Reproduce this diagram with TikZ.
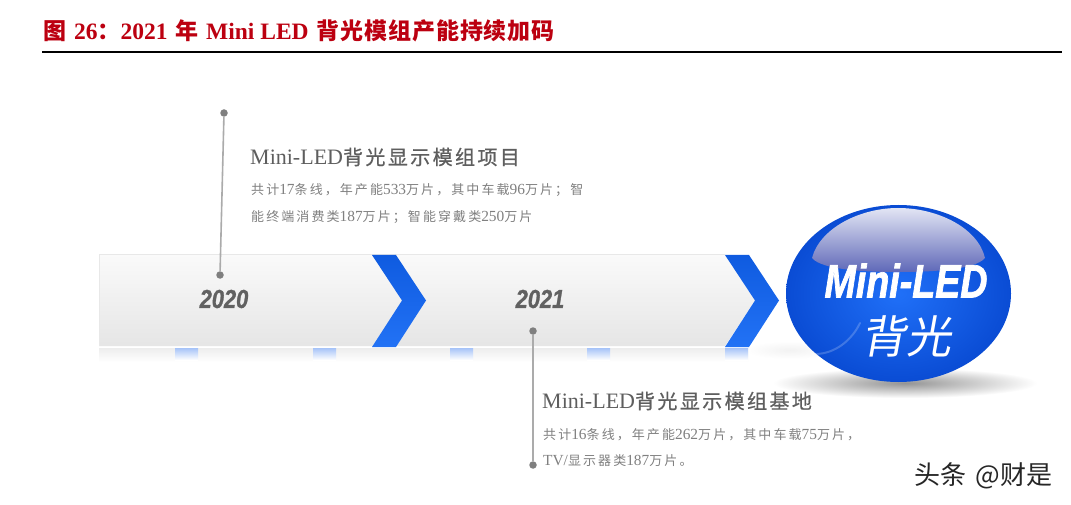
\documentclass[tikz,border=0pt]{standalone}
\usepackage{fontspec}
\setmainfont{Liberation Serif}
\newfontfamily\zhbody[LetterSpace=16]{Noto Sans CJK SC}
\newfontfamily\zhhead[LetterSpace=12,FakeBold=0.6]{Noto Sans CJK SC}
\newfontfamily\zhtitle[LetterSpace=4]{Noto Sans CJK SC}
\newfontfamily\zhplain[LetterSpace=1.5]{Noto Sans CJK SC}
\newfontfamily\zhslant[FakeSlant=0.18]{Noto Sans CJK SC}
\newfontfamily\yearface[FakeStretch=0.84,FakeBold=1]{Liberation Sans}
\newfontfamily\badgeface[FakeStretch=0.8,FakeBold=1.5]{Liberation Sans}
\definecolor{titlered}{HTML}{BC0010}
\definecolor{leader}{HTML}{ABABAB}
\definecolor{dotgray}{HTML}{7F7F7F}
\definecolor{headgray}{HTML}{5E5E5E}
\definecolor{bodygray}{HTML}{808080}
\definecolor{chevtop}{HTML}{0F5BE0}
\definecolor{chevmid}{HTML}{0050D8}
\definecolor{chevbot}{HTML}{2272F5}
\definecolor{ballin}{HTML}{2070F8}
\definecolor{ballout}{HTML}{0A4CD4}
\definecolor{glosstop}{HTML}{E2E5F4}
\definecolor{glossbot}{HTML}{5F68B8}
\definecolor{ticktop}{HTML}{A6C3F8}
\newcommand{\tbz}[1]{{\zhbody\fontsize{13}{15}\selectfont #1}}
\newcommand{\thz}[1]{{\zhhead\fontsize{20}{24}\selectfont #1}}
\newcommand{\ttz}[1]{{\zhtitle\fontsize{23}{24}\selectfont #1}}
\newcommand{\chevronpath}[1]{(#1,255) -- ++(24,0) -- ++(30,45.5) -- ++(-30,46.5) -- ++(-24,0) -- ++(30,-46.5) -- cycle}
\tikzset{
  titletext/.style={anchor=west,inner sep=0,text=titlered,font=\bfseries\fontsize{23.5}{24}\selectfont},
  headtext/.style={anchor=west,inner sep=0,text=headgray,font=\fontsize{22}{24}\selectfont},
  bodytext/.style={anchor=west,inner sep=0,text=bodygray,font=\fontsize{15.4}{15}\selectfont},
  yeartext/.style={anchor=center,inner sep=0,text=black!62,font=\yearface\bfseries\itshape\fontsize{26}{28}\selectfont},
  leaderdot/.style={circle,fill=dotgray,inner sep=0,minimum size=7.5pt},
  leaderline/.style={draw=leader,line width=1.6pt},
  chevronfill/.style={top color=chevtop,middle color=chevmid,bottom color=chevbot,draw=none},
}
\begin{document}
\begin{tikzpicture}[x=1pt,y=-1pt]
\useasboundingbox (0,0) rectangle (1071,505);
\fill[white] (0,0) rectangle (1071,505);
% title
\node[titletext] (title) at (43,31) {\ttz{图}\,\,26\ttz{：}2021\,\,\ttz{年}\,\,Mini LED\,\,\ttz{背光模组产能持续加码}};
\coordinate (ruleL) at (42,52);
\coordinate (ruleR) at (1062,52);
\draw[black,line width=1.6pt] (ruleL) -- (ruleR);
% ground shadow and swoosh
\shade[inner color=black!5,outer color=white,draw=none] (790,350) ellipse [x radius=45,y radius=9];
\shade[inner color=black!42,outer color=white,draw=none] (905,383) ellipse [x radius=132,y radius=15];
% reflection
\shade[top color=black!7,bottom color=white,draw=none] (99,348) rectangle (748,362);
% band
\shade[top color=black!2,bottom color=black!10,draw=none] (99,255) -- (725,255) -- (755,300.5) -- (725,346) -- (99,346) -- cycle;
\draw[black!9,line width=.6pt] (725,254.5) -- (99,254.5) -- (99,346);
% ticks
\foreach \xa in {175,313,450,587,725}
  \shade[top color=ticktop,bottom color=white,draw=none] (\xa,348) rectangle ++(23,12);
% chevrons
\shade[chevronfill] \chevronpath{372};
\shade[chevronfill] \chevronpath{725};
% badge
\shade[inner color=ballin,outer color=ballout,draw=none] (898.5,293.5) ellipse [x radius=112.5,y radius=88.5];
\shade[top color=glosstop,bottom color=glossbot,draw=none]
  (812,258) .. controls (820,228) and (860,208) .. (898,208) .. controls (938,208) and (978,228) .. (985,258)
  .. controls (975,270) and (930,272) .. (898,272) .. controls (866,272) and (822,270) .. (812,258) -- cycle;
\draw[white,opacity=.2,line width=2pt,line cap=round] (815,354) .. controls (835,354) and (852,340) .. (860,323);
\node[anchor=center,inner sep=0,text=white,font=\badgeface\bfseries\itshape\fontsize{47}{50}\selectfont] (badge) at (906,280.5) {Mini-LED};
\node[anchor=center,inner sep=0,text=white,font=\zhslant\fontsize{45}{46}\selectfont] (badgezh) at (906,336) {背光};
% years
\node[yeartext] (y2020) at (224,299) {2020};
\node[yeartext] (y2021) at (540,299) {2021};
% leaders
\node[leaderdot] (d1a) at (224,113) {};
\node[leaderdot] (d1b) at (220,275) {};
\node[leaderdot] (d2a) at (533,331) {};
\node[leaderdot] (d2b) at (533,465) {};
\draw[leaderline] (d1a) -- (d1b);
\draw[leaderline] (d2a) -- (d2b);
% texts
\node[headtext] (h1) at (250,157) {Mini-LED\thz{背光显示模组项目}};
\node[bodytext] (b1a) at (251,190) {\tbz{共计}17\tbz{条线，年产能}533\tbz{万片，其中车载}96\tbz{万片；智}};
\node[bodytext] (b1b) at (251,217.5) {\tbz{能终端消费类}187\tbz{万片；智能穿戴类}250\tbz{万片}};
\node[headtext] (h2) at (542,401) {Mini-LED\thz{背光显示模组基地}};
\node[bodytext] (b2a) at (543,434.5) {\tbz{共计}16\tbz{条线，年产能}262\tbz{万片，其中车载}75\tbz{万片，}};
\node[bodytext] (b2b) at (543,461) {TV/\tbz{显示器类}187\tbz{万片。}};
% watermark
\node[anchor=west,inner sep=0,text=black!85,font=\zhplain\fontsize{26}{28}\selectfont] (mark) at (914,476) {头条\hspace{9pt}@财是};
\end{tikzpicture}
\end{document}
